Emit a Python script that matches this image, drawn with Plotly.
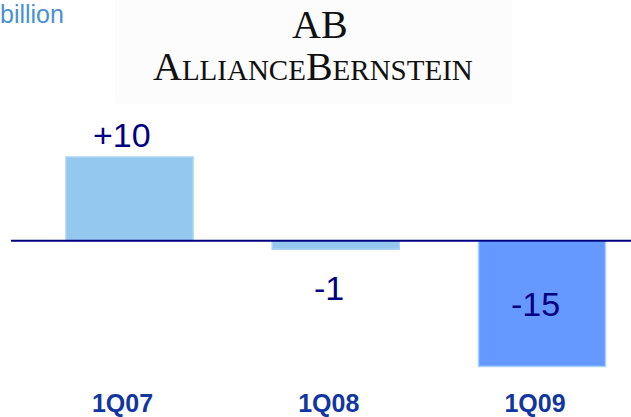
import plotly.graph_objects as go

categories = ["1Q07", "1Q08", "1Q09"]
values = [10, -1, -15]
value_labels = ["+10", "-1", "-15"]
unit_label = "billion"
logo_mark = "AB"
logo_name = [("A", "LLIANCE"), ("B", "ERNSTEIN")]

W, H = 631, 417
bar_colors = ["#95C8EE", "#95C8EE", "#6699FF"]

fig = go.Figure()
fig.add_trace(go.Bar(
    x=categories, y=values,
    marker=dict(color=bar_colors, line=dict(color="#A9D2F6", width=1.5)),
    width=0.616, hoverinfo="skip",
))

# value labels (offset per label to mimic the slide layout)
shifts = [(-8, 22, "bottom"), (-7, -18, "top"), (-7, 0, "middle")]
for c, v, t, (dx, dy, ya) in zip(categories, values, value_labels, shifts):
    yy = v if ya != "middle" else v / 2
    fig.add_annotation(x=c, y=yy, text=t, showarrow=False, xshift=dx, yshift=dy,
                       yanchor=ya if ya != "bottom" else "middle",
                       font=dict(family="Liberation Sans, Arial", size=34, color="#000080"))

# zero line
fig.add_shape(type="line", xref="paper", yref="y", x0=11 / W, x1=1, y0=0, y1=0,
              line=dict(color="#000080", width=2.2), layer="above")

# logo background
fig.add_shape(type="rect", xref="paper", yref="paper", x0=115 / W, x1=512 / W,
              y0=1 - 116 / H, y1=1, fillcolor="#FCFCFC", line=dict(width=0), layer="below")

serif = "Liberation Serif, Times New Roman, serif"
fig.add_annotation(xref="paper", yref="paper", x=320 / W, y=1 - 28 / H, text=logo_mark,
                   showarrow=False, font=dict(family=serif, size=40, color="#111111"),
                   xanchor="center", yanchor="middle")
name_html = "".join(f'{big}<span style="font-size:29px">{small}</span>' for big, small in logo_name)
fig.add_annotation(xref="paper", yref="paper", x=313 / W, y=1 - 75 / H, text=name_html,
                   showarrow=False, font=dict(family=serif, size=40, color="#111111"),
                   xanchor="center", yanchor="middle")

fig.add_annotation(xref="paper", yref="paper", x=0, y=1, text=unit_label,
                   showarrow=False, xanchor="left", yanchor="top", yshift=2, xshift=-2,
                   font=dict(family="Liberation Sans, Arial", size=25, color="#4A90D4"))

px_per_unit = 8.5
plot_h = H - 40
ymax = 244 / px_per_unit
ymin = ymax - plot_h / px_per_unit
xs = 206.25
fig.update_layout(
    width=W, height=H, margin=dict(l=0, r=0, t=0, b=40),
    paper_bgcolor="white", plot_bgcolor="white", showlegend=False,
    xaxis=dict(range=[-0.5 - 26.4 / xs, 2 + (W - 542) / xs], showgrid=False, zeroline=False,
               showline=False, ticks="", tickfont=dict(family="Liberation Sans, Arial", size=25,
                                                       color="#1236A0", weight="bold"),
               ticklabelshift=-7, ticklabelstandoff=14),
    yaxis=dict(range=[ymin, ymax], visible=False),
)
fig.write_html("out.html")
